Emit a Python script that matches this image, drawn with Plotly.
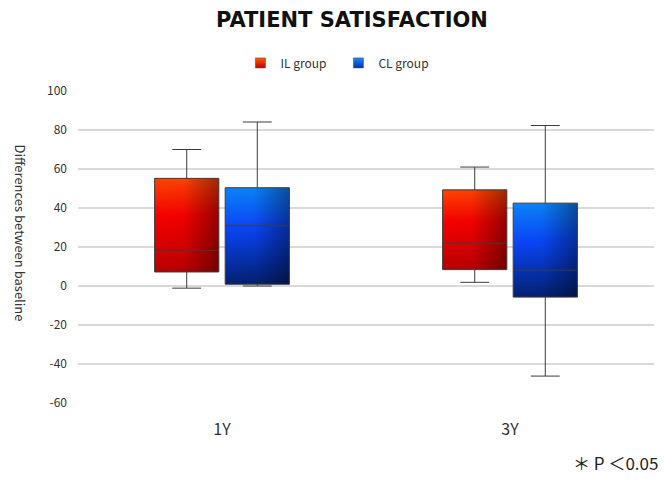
import plotly.graph_objects as go

categories = ["1Y", "3Y"]
series_names = ["IL group", "CL group"]
il_lower = [-1.1, 1.9]
il_q1 = [7.2, 8.4]
il_median = [18.3, 21.9]
il_q3 = [55.2, 49.3]
il_upper = [70.0, 61.0]
cl_lower = [0.0, -46.2]
cl_q1 = [0.9, -5.7]
cl_median = [30.9, 8.1]
cl_q3 = [50.4, 42.5]
cl_upper = [84.1, 82.3]
y_ticks = [-60, -40, -20, 0, 20, 40, 60, 80, 100]
y_ticklabels = ["-60", "-40", "-20", "0", "20", "40", "60", "80", "100"]

FONT = "Noto Sans CJK JP"
BOXGAP = 0.51
BOXGROUPGAP = 0.09

series = [
    dict(name=series_names[0], lower=il_lower, q1=il_q1, med=il_median, q3=il_q3, upper=il_upper,
         vscale=[[0, "#b80000"], [0.3, "#d80000"], [0.6, "#f50000"], [1, "#ff4400"]],
         legend_top="#ff5a00", legend_bot="#c00000"),
    dict(name=series_names[1], lower=cl_lower, q1=cl_q1, med=cl_median, q3=cl_q3, upper=cl_upper,
         vscale=[[0, "#03206e"], [0.3, "#0633b8"], [0.6, "#0a46f8"], [1, "#0a84f8"]],
         legend_top="#1a8af5", legend_bot="#0030b0"),
]
dark_overlay = [[0, "rgba(0,0,0,0)"], [0.45, "rgba(0,0,0,0.02)"], [1, "rgba(0,0,0,0.38)"]]

fig = go.Figure()
n = len(series)
slot = (1 - BOXGAP) / n
half_w = slot * (1 - BOXGROUPGAP) / 2
for num, s in enumerate(series):
    offset = (2 * num + 1 - n) * (1 - BOXGAP) / (2 * n)
    for i, cat in enumerate(categories):
        x0 = i + offset - half_w
        x1 = i + offset + half_w
        xs = [x0, x1, x1, x0, x0]
        ys = [s["q1"][i], s["q1"][i], s["q3"][i], s["q3"][i], s["q1"][i]]
        fig.add_trace(go.Scatter(x=xs, y=ys, mode="none", fill="toself",
                                 fillgradient=dict(type="vertical", colorscale=s["vscale"]),
                                 showlegend=False, hoverinfo="skip"))
        fig.add_trace(go.Scatter(x=xs, y=ys, mode="none", fill="toself",
                                 fillgradient=dict(type="horizontal", colorscale=dark_overlay),
                                 showlegend=False, hoverinfo="skip"))

for num, s in enumerate(series):
    fig.add_trace(go.Box(
        name=s["name"], x=list(range(len(categories))), xaxis="x2",
        lowerfence=s["lower"], q1=s["q1"], median=s["med"], q3=s["q3"], upperfence=s["upper"],
        fillcolor="rgba(0,0,0,0)", line=dict(color="#3c3c3c", width=1), whiskerwidth=0.45,
        showlegend=False,
    ))
    fig.add_trace(go.Scatter(
        name=s["name"], x=[None], y=[None], mode="markers",
        marker=dict(symbol="square", size=10, color=s["legend_top"],
                    gradient=dict(type="vertical", color=s["legend_bot"]),
                    line=dict(color="#555555", width=0.6)),
        showlegend=True,
    ))

fig.update_layout(
    width=664, height=479,
    paper_bgcolor="white", plot_bgcolor="white",
    margin=dict(l=78, r=10, t=91, b=76, autoexpand=False),
    boxmode="group", boxgap=BOXGAP, boxgroupgap=BOXGROUPGAP,
    font=dict(family=FONT, color="#333333", size=12),
    title=dict(text="<b>PATIENT SATISFACTION</b>", x=0.53, xanchor="center",
               y=0.958, yanchor="middle",
               font=dict(family="DejaVu Sans", size=21, color="#111111")),
    legend=dict(orientation="h", x=0.282, xanchor="left", y=1.09, yanchor="middle",
                font=dict(size=12, color="#333333"), itemwidth=30, entrywidth=53),
    showlegend=True,
    xaxis=dict(range=[-0.5, len(categories) - 0.5], tickvals=list(range(len(categories))),
               ticktext=categories, showgrid=False, zeroline=False, ticks="",
               tickfont=dict(size=16, color="#333333"), ticklabelstandoff=15, automargin=False),
    xaxis2=dict(overlaying="x", matches="x", visible=False),
    yaxis=dict(range=[-60, 100], tickvals=y_ticks, ticktext=y_ticklabels, showgrid=True,
               gridcolor="#d9d9d9", gridwidth=2, zeroline=False, ticks="",
               tickfont=dict(size=12, color="#333333"), ticklabelstandoff=10, automargin=False),
)

fig.add_annotation(text="Differences between baseline", textangle=90,
                   xref="paper", yref="paper", x=-0.1, y=0.545,
                   xanchor="center", yanchor="middle", showarrow=False,
                   font=dict(size=13, color="#333333"))
fig.add_annotation(text="＊ P ＜0.05", xref="paper", yref="paper",
                   x=1.01, y=-0.192, xanchor="right", yanchor="middle",
                   showarrow=False, font=dict(size=17, color="#222222"))

fig.write_html("out.html", config={"displayModeBar": False},
               post_script="document.body.style.margin='0px';")
